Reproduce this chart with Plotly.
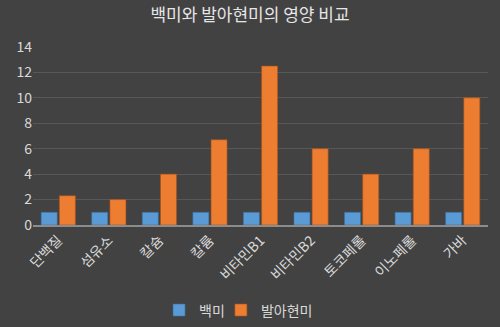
import plotly.graph_objects as go

categories = ["단백질", "섬유소", "칼슘", "칼륨", "비타민B1", "비타민B2", "토코페롤", "이노페롤", "가바"]
white_rice = [1, 1, 1, 1, 1, 1, 1, 1, 1]
germinated_brown_rice = [2.3, 2.0, 4.0, 6.7, 12.5, 6.0, 4.0, 6.0, 10.0]
y_ticks = [0, 2, 4, 6, 8, 10, 12, 14]

FONT = "Noto Sans CJK KR, Noto Sans, sans-serif"

fig = go.Figure()
fig.add_trace(go.Bar(
    x=categories, y=white_rice, name="백미", legend="legend",
    marker=dict(color="#5B9BD5", line=dict(color="#3a6ea0", width=0.6)),
))
fig.add_trace(go.Bar(
    x=categories, y=germinated_brown_rice, name="발아현미", legend="legend2",
    marker=dict(color="#ED7D31", line=dict(color="#a9531a", width=0.6)),
))

leg_common = dict(orientation="h", y=-0.48, yanchor="middle", xanchor="left",
                  font=dict(family=FONT, size=14, color="#d9d9d9"),
                  bgcolor="rgba(0,0,0,0)", itemwidth=30)

fig.update_layout(
    width=500, height=327,
    paper_bgcolor="#424242", plot_bgcolor="#424242",
    margin=dict(l=33, r=12, t=47, b=102, autoexpand=False),
    barmode="group", bargap=0.28, bargroupgap=0.12,
    title=dict(text="백미와 발아현미의 영양 비교", x=0.5, xanchor="center",
               y=0.955, yanchor="middle",
               font=dict(family=FONT, size=17, color="#e6e6e6")),
    font=dict(family=FONT, size=14, color="#d9d9d9"),
    showlegend=True,
    legend=dict(x=0.277, **leg_common),
    legend2=dict(x=0.413, **leg_common),
    xaxis=dict(tickangle=-45, showgrid=False, showline=True, linecolor="#8c8c8c",
               linewidth=1.5, ticks="", automargin=False,
               tickfont=dict(family=FONT, size=14, color="#d9d9d9")),
    yaxis=dict(range=[0, 14], tickvals=y_ticks, showgrid=True, gridcolor="#585858",
               gridwidth=1, zeroline=False, showline=False, ticks="", automargin=False,
               tickfont=dict(family=FONT, size=14, color="#d9d9d9")),
)

fig.write_html("out.html")
